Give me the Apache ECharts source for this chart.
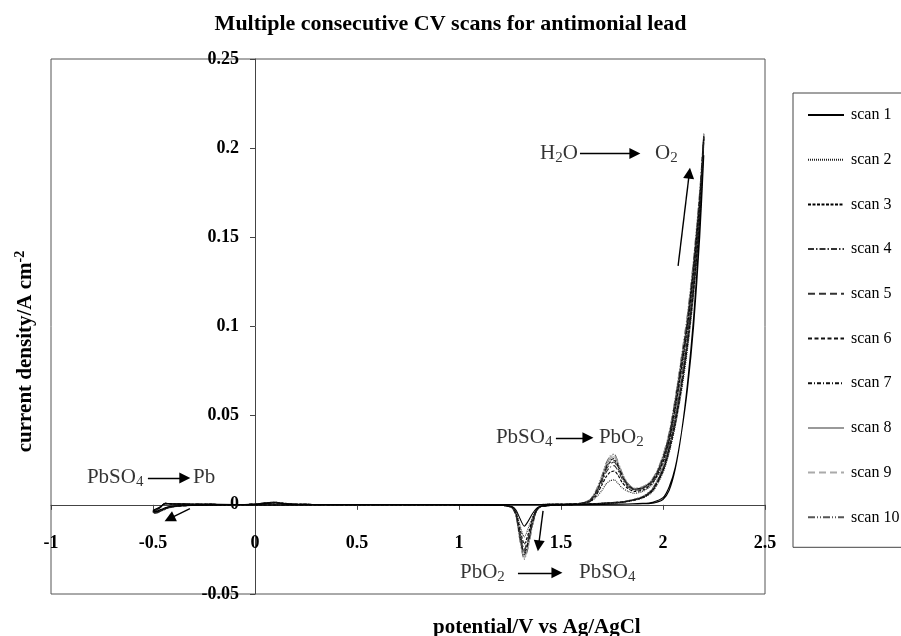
<!DOCTYPE html>
<html>
<head>
<meta charset="utf-8">
<script src="https://cdn.jsdelivr.net/npm/echarts@6/dist/echarts.min.js"></script>
<style>
html,body{margin:0;padding:0;background:#fff;}
#chart{width:901px;height:636px;}
</style>
</head>
<body>
<div id="chart"></div>
<script>
// ---- Data ----
const scanNames = ['scan 1','scan 2','scan 3','scan 4','scan 5','scan 6','scan 7','scan 8','scan 9','scan 10'];
const xTicks = [-1, -0.5, 0, 0.5, 1, 1.5, 2, 2.5];
const yTicks = [-0.05, 0, 0.05, 0.1, 0.15, 0.2, 0.25];

// potential grid of the anodic (forward) and cathodic (reverse) sweeps, V vs Ag/AgCl
const fwdPotential = [-0.5,-0.47,-0.44,-0.4,-0.3,-0.1,0,0.05,0.1,0.15,
  0.2,0.4,0.7,1.0,1.3,1.5,1.6,1.64,1.67,1.70,
  1.72,1.74,1.76,1.78,1.80,1.83,1.86,1.90,1.94,1.97,
  2.00,2.03,2.06,2.09,2.12,2.15,2.18,2.20];
const revPotential = [2.18,2.15,2.12,2.09,2.06,2.03,2.00,1.95,1.90,1.80,
  1.6,1.45,1.40,1.38,1.36,1.34,1.32,1.30,1.28,1.26,
  1.22,1.1,0.8,0.4,0,-0.2,-0.35,-0.42,-0.46,-0.49,-0.5];

// current density, A cm-2
const scan1Fwd = [-0.003,-0.0015,0.0006,0.0005,0.0003,0.0002,0.0003,0.0008,0.001,0.0006,
  0.0003,0.0002,0.0002,0.0002,0.0002,0.0002,0.0002,0.0002,0.0003,0.0003,
  0.0003,0.0003,0.0004,0.0004,0.0004,0.0005,0.0005,0.0006,0.0008,0.0015,
  0.003,0.008,0.02,0.04,0.068,0.105,0.155,0.196];
const scan1Rev = [0.15,0.1,0.065,0.04,0.021,0.01,0.004,0.0015,0.0008,0.0003,
  0.0001,-0.0003,-0.0008,-0.002,-0.005,-0.009,-0.012,-0.008,-0.003,-0.001,
  -0.0004,-0.0002,-0.0001,-0.0001,-0.0001,-0.0002,-0.0004,-0.001,-0.0025,-0.0038,-0.003];

const scan2Fwd = [-0.0035,-0.0018,0.0007,0.0005,0.0003,0.0002,0.0003,0.0009,0.0011,0.0006,
  0.0003,0.0002,0.0002,0.0002,0.0002,0.0003,0.0006,0.0015,0.004,0.008,
  0.0115,0.0135,0.014,0.012,0.0095,0.0075,0.0065,0.0075,0.0105,0.0155,
  0.023,0.035,0.052,0.074,0.098,0.128,0.166,0.203];
const scan2Rev = [0.157,0.117,0.087,0.063,0.044,0.029,0.018,0.0075,0.0038,0.0014,
  0.0003,-0.0003,-0.0008,-0.0025,-0.007,-0.013,-0.018,-0.012,-0.004,-0.0012,
  -0.0004,-0.0002,-0.0001,-0.0001,-0.0001,-0.0002,-0.0004,-0.0012,-0.0028,-0.004,-0.0035];

const scan3Fwd = [-0.0035,-0.0018,0.0007,0.0005,0.0003,0.0002,0.0003,0.0009,0.0012,0.0006,
  0.0003,0.0002,0.0002,0.0002,0.0002,0.0003,0.0007,0.0018,0.005,0.011,
  0.0155,0.0182,0.019,0.0165,0.0125,0.009,0.0075,0.0082,0.0112,0.0162,
  0.024,0.036,0.054,0.076,0.1,0.131,0.169,0.205];
const scan3Rev = [0.16,0.12,0.089,0.065,0.045,0.03,0.019,0.008,0.004,0.0015,
  0.0003,-0.0003,-0.0009,-0.0028,-0.008,-0.016,-0.022,-0.014,-0.0045,-0.0013,
  -0.0004,-0.0002,-0.0001,-0.0001,-0.0001,-0.0002,-0.0004,-0.0012,-0.003,-0.0042,-0.0035];

const scan4Fwd = [-0.0037,-0.0019,0.0007,0.0005,0.0003,0.0002,0.0003,0.001,0.0012,0.0007,
  0.0003,0.0002,0.0002,0.0002,0.0002,0.0003,0.0007,0.002,0.0058,0.0125,
  0.018,0.021,0.022,0.019,0.0145,0.01,0.0082,0.0088,0.0118,0.0168,
  0.025,0.037,0.055,0.077,0.101,0.132,0.17,0.206];
const scan4Rev = [0.161,0.121,0.09,0.066,0.046,0.031,0.019,0.0082,0.0041,0.0015,
  0.0003,-0.0003,-0.0009,-0.003,-0.009,-0.018,-0.025,-0.016,-0.005,-0.0014,
  -0.0004,-0.0002,-0.0001,-0.0001,-0.0001,-0.0002,-0.0004,-0.0013,-0.003,-0.0043,-0.0037];

const scan5Fwd = [-0.0038,-0.002,0.0008,0.0005,0.0003,0.0002,0.0003,0.001,0.0013,0.0007,
  0.0003,0.0002,0.0002,0.0002,0.0002,0.0003,0.0008,0.0022,0.0063,0.0135,
  0.0195,0.0228,0.024,0.0205,0.0155,0.0105,0.0085,0.0092,0.0122,0.0172,
  0.0255,0.0375,0.056,0.078,0.102,0.133,0.171,0.206];
const scan5Rev = [0.162,0.122,0.091,0.067,0.047,0.031,0.0195,0.0085,0.0042,0.0016,
  0.0003,-0.0003,-0.001,-0.003,-0.0095,-0.019,-0.026,-0.017,-0.0055,-0.0015,
  -0.0004,-0.0002,-0.0001,-0.0001,-0.0001,-0.0002,-0.0005,-0.0013,-0.0031,-0.0044,-0.0038];

const scan6Fwd = [-0.0038,-0.002,0.0008,0.0005,0.0003,0.0002,0.0003,0.001,0.0013,0.0007,
  0.0003,0.0002,0.0002,0.0002,0.0002,0.0003,0.0008,0.0023,0.0066,0.014,
  0.0203,0.0238,0.025,0.0213,0.016,0.0108,0.0087,0.0094,0.0125,0.0176,
  0.026,0.038,0.057,0.079,0.103,0.134,0.172,0.207];
const scan6Rev = [0.163,0.123,0.092,0.067,0.047,0.032,0.02,0.0087,0.0043,0.0016,
  0.0003,-0.0003,-0.001,-0.0032,-0.01,-0.02,-0.027,-0.018,-0.0058,-0.0015,
  -0.0004,-0.0002,-0.0001,-0.0001,-0.0001,-0.0002,-0.0005,-0.0014,-0.0032,-0.0045,-0.0038];

const scan7Fwd = [-0.0039,-0.0021,0.0008,0.0005,0.0003,0.0002,0.0003,0.0011,0.0014,0.0007,
  0.0003,0.0002,0.0002,0.0002,0.0002,0.0003,0.0009,0.0024,0.0069,0.0146,
  0.021,0.0247,0.026,0.022,0.0165,0.011,0.0088,0.0096,0.0127,0.018,
  0.0265,0.0388,0.058,0.08,0.104,0.135,0.173,0.207];
const scan7Rev = [0.164,0.124,0.093,0.068,0.048,0.032,0.02,0.0088,0.0044,0.0016,
  0.0003,-0.0003,-0.001,-0.0033,-0.0105,-0.021,-0.028,-0.019,-0.006,-0.0016,
  -0.0004,-0.0002,-0.0001,-0.0001,-0.0001,-0.0002,-0.0005,-0.0014,-0.0033,-0.0046,-0.0039];

const scan8Fwd = [-0.004,-0.0021,0.0008,0.0005,0.0003,0.0002,0.0003,0.0011,0.0014,0.0008,
  0.0003,0.0002,0.0002,0.0002,0.0002,0.0003,0.0009,0.0025,0.0072,0.0152,
  0.0218,0.0257,0.027,0.0228,0.017,0.0112,0.009,0.0098,0.013,0.0183,
  0.027,0.0395,0.059,0.081,0.105,0.136,0.174,0.208];
const scan8Rev = [0.165,0.125,0.094,0.069,0.048,0.033,0.0205,0.009,0.0045,0.0017,
  0.0003,-0.0003,-0.001,-0.0034,-0.011,-0.022,-0.029,-0.02,-0.0062,-0.0016,
  -0.0004,-0.0002,-0.0001,-0.0001,-0.0001,-0.0002,-0.0005,-0.0015,-0.0034,-0.0046,-0.004];

const scan9Fwd = [-0.004,-0.0022,0.0008,0.0005,0.0003,0.0002,0.0003,0.0011,0.0015,0.0008,
  0.0003,0.0002,0.0002,0.0002,0.0002,0.0003,0.001,0.0026,0.0075,0.0158,
  0.0226,0.0266,0.028,0.0235,0.0175,0.0115,0.0092,0.01,0.0132,0.0186,
  0.0275,0.04,0.0595,0.082,0.106,0.137,0.175,0.208];
const scan9Rev = [0.166,0.126,0.095,0.07,0.049,0.033,0.021,0.0092,0.0046,0.0017,
  0.0003,-0.0003,-0.0011,-0.0035,-0.0115,-0.023,-0.03,-0.0205,-0.0064,-0.0017,
  -0.0004,-0.0002,-0.0001,-0.0001,-0.0001,-0.0002,-0.0005,-0.0015,-0.0035,-0.0047,-0.004];

const scan10Fwd = [-0.0041,-0.0022,0.0008,0.0005,0.0003,0.0002,0.0003,0.0012,0.0015,0.0008,
  0.0003,0.0002,0.0002,0.0002,0.0002,0.0003,0.001,0.0027,0.0078,0.0162,
  0.023,0.0272,0.0285,0.024,0.0178,0.0117,0.0093,0.0101,0.0133,0.0188,
  0.0278,0.0405,0.06,0.083,0.107,0.138,0.176,0.208];
const scan10Rev = [0.167,0.127,0.096,0.071,0.05,0.034,0.0215,0.0094,0.0047,0.0018,
  0.0003,-0.0003,-0.0011,-0.0036,-0.012,-0.0235,-0.0305,-0.021,-0.0066,-0.0017,
  -0.0004,-0.0002,-0.0001,-0.0001,-0.0001,-0.0002,-0.0005,-0.0016,-0.0036,-0.0048,-0.0041];

// annotation texts and their anchor points (data units: V, A cm-2)
const noteText = ['H{s|2}O', 'O{s|2}', 'PbSO{s|4}', 'PbO{s|2}', 'PbO{s|2}', 'PbSO{s|4}', 'PbSO{s|4}', 'Pb'];
const noteX = [1.397, 1.961, 1.181, 1.686, 1.005, 1.588, -0.824, -0.304];
const noteY = [0.197, 0.197, 0.0376, 0.0376, -0.0381, -0.0381, 0.0151, 0.0151];
// arrows: start and end points (data units)
const arrowFrom = [[1.593, 0.197], [2.074, 0.134], [1.475, 0.0376], [1.289, -0.0381], [1.412, -0.0034], [-0.525, 0.0151], [-0.319, -0.0021]];
const arrowTo   = [[1.862, 0.197], [2.129, 0.186], [1.632, 0.0376], [1.48, -0.0381], [1.39, -0.023], [-0.344, 0.0151], [-0.419, -0.0078]];

// ---- Build ----
const fwdSets = [scan1Fwd, scan2Fwd, scan3Fwd, scan4Fwd, scan5Fwd, scan6Fwd, scan7Fwd, scan8Fwd, scan9Fwd, scan10Fwd];
const revSets = [scan1Rev, scan2Rev, scan3Rev, scan4Rev, scan5Rev, scan6Rev, scan7Rev, scan8Rev, scan9Rev, scan10Rev];
const styles = [
  {color:'#000', type:'solid', width:1.1},
  {color:'#222', type:[1,1], width:1.1},
  {color:'#000', type:[3,1.5], width:1.1},
  {color:'#333', type:[6,2,1.5,2], width:1.1},
  {color:'#333', type:[7,4], width:1.1},
  {color:'#111', type:[4,2.5], width:1.1},
  {color:'#111', type:[4,2,1,2], width:1.1},
  {color:'#999', type:'solid', width:1.1},
  {color:'#aaa', type:[7,4], width:1.1},
  {color:'#555', type:[7,2,1,2,1,2], width:1.1}
];
const FONT = '"Liberation Serif", "Times New Roman", serif';

// grid geometry
const G = {left: 51, top: 59, width: 714, height: 535};
const xMin = xTicks[0], xMax = xTicks[xTicks.length - 1];
const yMin = yTicks[0], yMax = yTicks[yTicks.length - 1];
// shift the axes so they cross at the origin (labels and ticks move with them)
const xAxisOffset = -G.height * (0 - yMin) / (yMax - yMin);
const yAxisOffset = -G.width * (0 - xMin) / (xMax - xMin);

const series = scanNames.map((name, k) => {
  const data = [];
  fwdPotential.forEach((e, i) => data.push([e, fwdSets[k][i]]));
  revPotential.forEach((e, i) => data.push([e, revSets[k][i]]));
  return {
    name, type: 'line', data, symbol: 'none', showSymbol: false, smooth: 0.25,
    lineStyle: styles[k], itemStyle: {color: styles[k].color},
    silent: true, z: 3 + (10 - k)
  };
});

series.push({
  name: 'notes', type: 'scatter', symbolSize: 0, silent: true, z: 20,
  data: noteX.map((x, i) => ({value: [x, noteY[i]], note: noteText[i]})),
  label: {
    show: true, position: 'right', distance: 0,
    formatter: p => p.data.note,
    color: '#000', fontFamily: FONT, fontSize: 21, lineHeight: 24,
    rich: {s: {fontFamily: FONT, fontSize: 15, lineHeight: 15, verticalAlign: 'bottom', color: '#000'}}
  },
  markLine: {
    silent: true, symbol: ['none', 'triangle'], symbolSize: 11,
    label: {show: false},
    lineStyle: {color: '#000', width: 1.4, type: 'solid'},
    emphasis: {disabled: true},
    data: arrowFrom.map((a, i) => [{coord: a}, {coord: arrowTo[i]}])
  }
});

const chart = echarts.init(document.getElementById('chart'), null, {renderer: 'canvas'});
chart.setOption({
  animation: false,
  backgroundColor: '#fff',
  textStyle: {fontFamily: FONT},
  title: [
    {text: 'Multiple consecutive CV scans for antimonial lead', left: 'center', top: 8,
     textStyle: {fontFamily: FONT, fontSize: 22, fontWeight: 'bold', color: '#000'}},
    {text: 'potential/V vs Ag/AgCl', left: 428, top: 612,
     textStyle: {fontFamily: FONT, fontSize: 21, fontWeight: 'bold', color: '#000'}}
  ],
  grid: {left: G.left, top: G.top, width: G.width, height: G.height, show: true,
    borderColor: '#555', borderWidth: 1, containLabel: false, outerBoundsMode: 'none'},
  legend: {
    data: scanNames, orient: 'vertical', left: 793, top: 93,
    itemWidth: 36, itemHeight: 18, itemGap: 26.7, padding: [13, 30, 21, 14],
    borderColor: '#444', borderWidth: 1, backgroundColor: '#fff',
    itemStyle: {opacity: 0, borderWidth: 0},
    textStyle: {fontFamily: FONT, fontSize: 16, color: '#000', lineHeight: 18, padding: [0,0,0,2]},
    selectedMode: false
  },
  xAxis: {
    type: 'value', min: xMin, max: xMax, interval: 0.5, position: 'bottom', offset: xAxisOffset,
    axisLine: {onZero: false, lineStyle: {color: '#444', width: 1}},
    axisTick: {show: true, length: 5, lineStyle: {color: '#444'}},
    splitLine: {show: false},
    axisLabel: {margin: 30, fontFamily: FONT, fontSize: 18, fontWeight: 'bold', color: '#000',
      showMinLabel: true, showMaxLabel: true}
  },
  yAxis: {
    type: 'value', min: yMin, max: yMax, interval: 0.05, position: 'left', offset: yAxisOffset,
    axisLine: {onZero: false, lineStyle: {color: '#444', width: 1}},
    axisTick: {show: true, length: 5, lineStyle: {color: '#444'}},
    splitLine: {show: false},
    axisLabel: {margin: 16, fontFamily: FONT, fontSize: 18, fontWeight: 'bold', color: '#000',
      showMinLabel: true, showMaxLabel: true},
    name: 'current density/A cm{p|-2}', nameLocation: 'middle', nameGap: 216, nameRotate: 90,
    nameTextStyle: {fontFamily: FONT, fontSize: 21, fontWeight: 'bold', color: '#000', lineHeight: 26,
      padding: [0, 50, 0, 0],
      rich: {p: {fontFamily: FONT, fontSize: 14, fontWeight: 'bold', lineHeight: 14, verticalAlign: 'top', color: '#000'}}}
  },
  series
});
</script>
</body>
</html>
